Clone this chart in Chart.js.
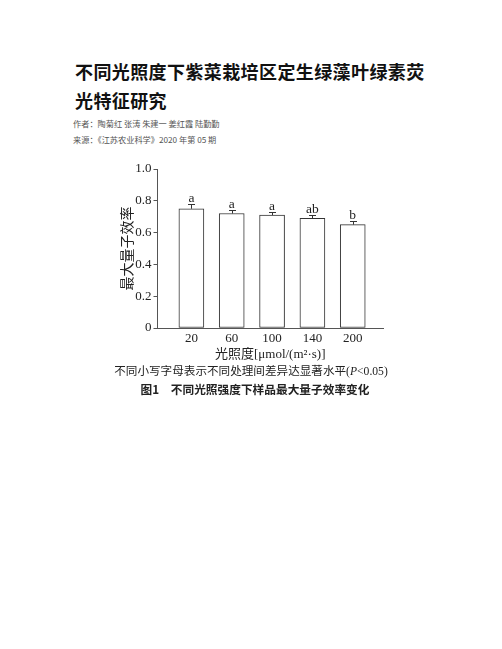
<!DOCTYPE html>
<html>
<head>
<meta charset="utf-8">
<script src="https://cdn.jsdelivr.net/npm/chart.js@4.4.1/dist/chart.umd.min.js"></script>
<style>
    body { margin: 0; background: #fff; width: 502px; height: 649px; position: relative; overflow: hidden; }
    .title { position: absolute; left: 75px; top: 57px; width: 362px; font-family: "Noto Sans CJK SC", sans-serif; font-weight: bold; font-size: 18px; letter-spacing: 0.4px; line-height: 29px; color: #111; }
    .meta { position: absolute; left: 73px; top: 115px; font-family: "Noto Sans CJK SC", sans-serif; font-size: 8.2px; line-height: 16px; color: #555; }
    .note { position: absolute; left: 0; width: 502px; text-align: center; color: #222; white-space: nowrap; }
    #chartBox { position: absolute; left: 100px; top: 150px; width: 300px; height: 215px; }
</style>
</head>
<body>
<div class="title">不同光照度下紫菜栽培区定生绿藻叶绿素荧光特征研究</div>
<div class="meta">作者：陶菊红 张涛 朱建一 姜红霞 陆勤勤<br>来源：《江苏农业科学》2020 年第 05 期</div>
<div id="chartBox"><canvas id="fvfmChart" width="300" height="215"></canvas></div>
<div class="note" style="top:362px; left:0px; font-family:'Liberation Serif','Noto Sans CJK SC',serif; font-size:11.6px;">不同小写字母表示不同处理间差异达显著水平(<i>P</i>&lt;0.05)</div>
<div class="note" style="top:380px; left:4px; font-family:'Noto Sans CJK SC',sans-serif; font-weight:bold; font-size:11.7px;">图1　不同光照强度下样品最大量子效率变化</div>

<script>
const lightLevels = ['20', '60', '100', '140', '200'];
const fvfmValues = [0.75, 0.72, 0.71, 0.69, 0.65];
const fvfmErrors = [0.03, 0.02, 0.02, 0.02, 0.02];
const sigLetters = ['a', 'a', 'a', 'ab', 'b'];
const yTicks = [0, 0.2, 0.4, 0.6, 0.8, 1.0];

const serif = "'Liberation Serif', 'Noto Sans CJK SC', serif";

// error bars (upper half only) + significance letters
const errorBarPlugin = {
    id: 'errorBars',
    afterDatasetsDraw(chart) {
        const ctx = chart.ctx;
        const yScale = chart.scales.y;
        const meta = chart.getDatasetMeta(0);
        ctx.save();
        ctx.strokeStyle = '#333';
        ctx.lineWidth = 1;
        ctx.fillStyle = '#222';
        ctx.font = '13.5px ' + serif;
        ctx.textAlign = 'center';
        ctx.textBaseline = 'alphabetic';
        meta.data.forEach((bar, i) => {
            const x = Math.round(bar.x) + 0.5;
            const yVal = yScale.getPixelForValue(fvfmValues[i]);
            const yTop = Math.round(yScale.getPixelForValue(fvfmValues[i] + fvfmErrors[i])) + 0.5;
            ctx.beginPath();
            ctx.moveTo(x, yVal);
            ctx.lineTo(x, yTop);
            ctx.moveTo(x - 3.5, yTop);
            ctx.lineTo(x + 3.5, yTop);
            ctx.stroke();
            ctx.fillText(sigLetters[i], bar.x, yTop - 3);
        });
        ctx.restore();
    }
};

new Chart(document.getElementById('fvfmChart'), {
    type: 'bar',
    data: {
        datasets: [{
            data: fvfmValues.map((v, i) => ({ x: i, y: v })),
            backgroundColor: '#fff',
            borderColor: '#333',
            borderWidth: 1,
            borderSkipped: false,
            barThickness: 25
        }]
    },
    options: {
        responsive: false,
        animation: false,
        layout: { padding: { left: 0, right: 17, top: 19, bottom: 3 } },
        plugins: { legend: { display: false }, tooltip: { enabled: false } },
        scales: {
            x: {
                type: 'linear',
                offset: false,
                min: -0.84,
                max: 4.75,
                afterBuildTicks: (scale) => { scale.ticks = lightLevels.map((l, i) => ({ value: i })); },
                afterFit: (scale) => { scale.height = 34; },
                grid: { display: false, drawTicks: false },
                border: { display: true, color: '#555', width: 1 },
                ticks: {
                    callback: (v) => lightLevels[v],
                    color: '#222',
                    font: { family: serif, size: 13 },
                    padding: 3,
                    maxRotation: 0
                },
                title: {
                    display: true,
                    text: '光照度[μmol/(m²·s)]',
                    color: '#222',
                    font: { family: serif, size: 13 },
                    padding: { top: 0, bottom: 0 }
                }
            },
            y: {
                min: 0,
                max: 1,
                afterBuildTicks: (scale) => { scale.ticks = yTicks.map(v => ({ value: v })); },
                afterFit: (scale) => { scale.width = 57.5; },
                grid: { display: true, drawOnChartArea: false, drawTicks: true, tickLength: 4, color: '#555' },
                border: { display: true, color: '#555', width: 1 },
                ticks: {
                    callback: (v) => v === 0 ? '0' : v.toFixed(1),
                    color: '#222',
                    font: { family: serif, size: 13 },
                    padding: 2
                },
                title: {
                    display: true,
                    text: '最大量子效率',
                    color: '#222',
                    font: { family: serif, size: 14 },
                    padding: { top: 20, bottom: 0 }
                }
            }
        }
    },
    plugins: [errorBarPlugin]
});
</script>
</body>
</html>
